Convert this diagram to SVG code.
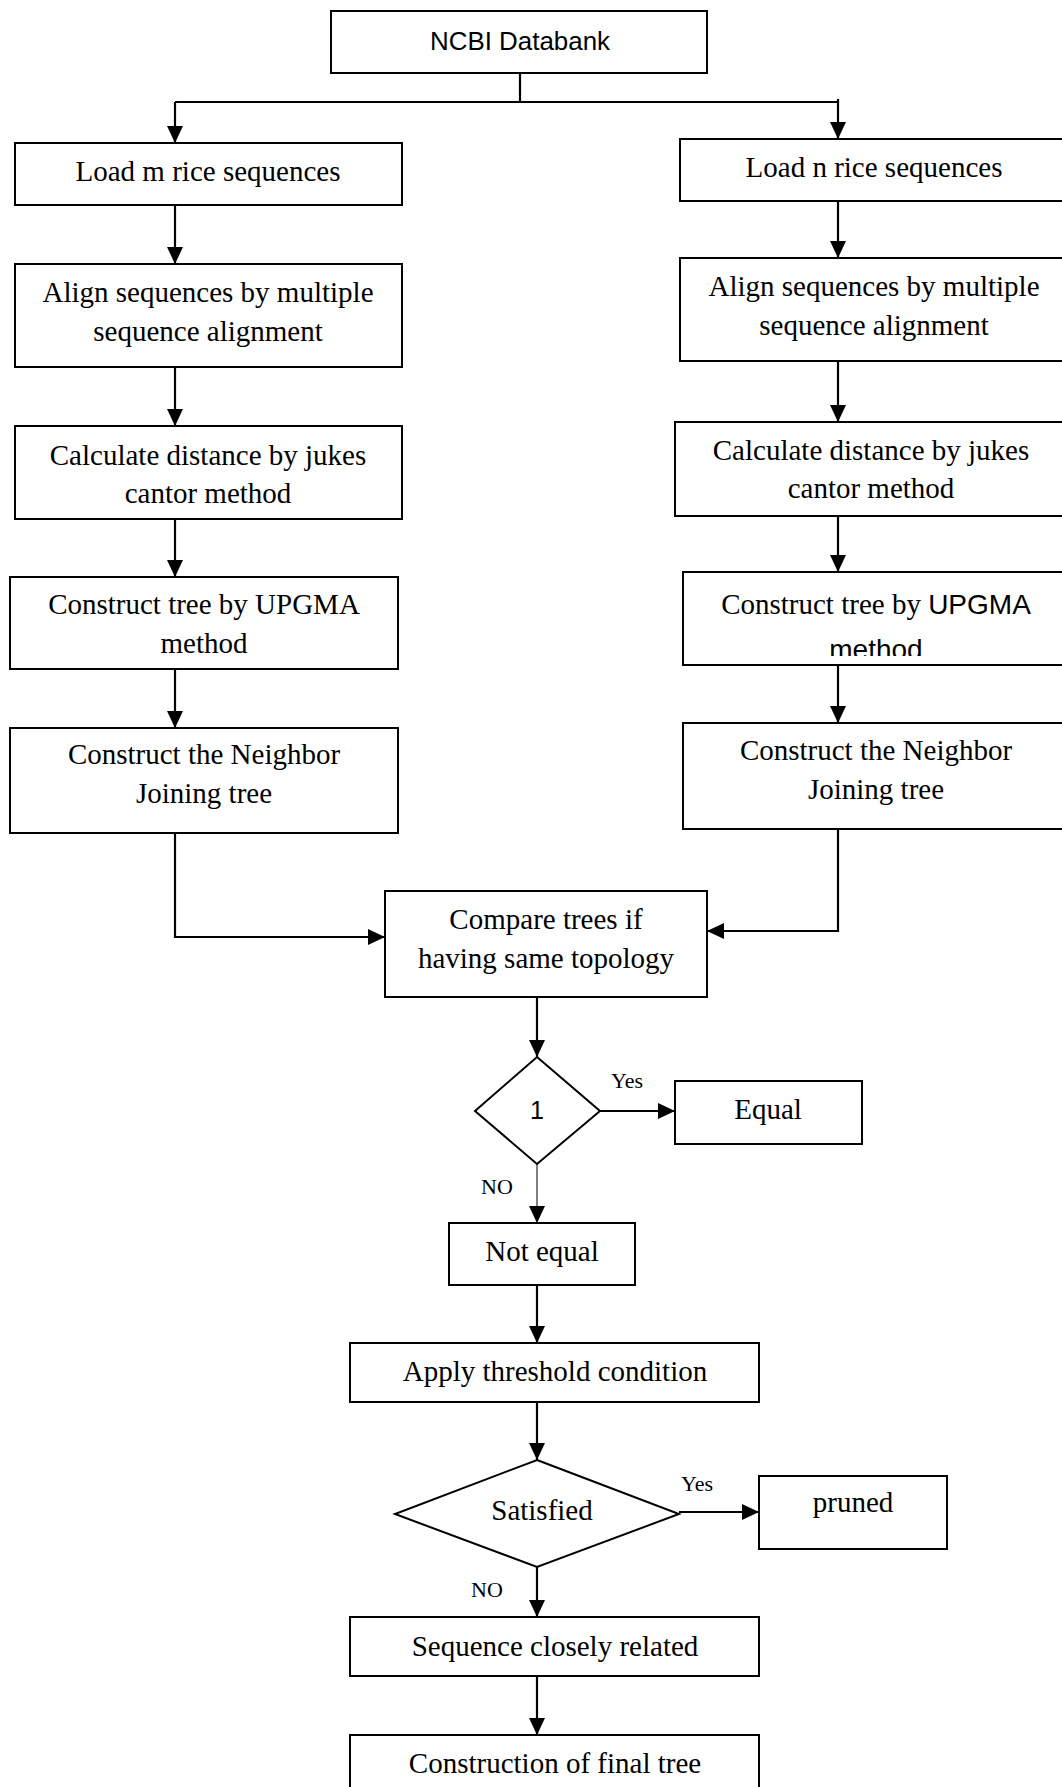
<svg xmlns="http://www.w3.org/2000/svg" width="1062" height="1787" viewBox="0 0 1062 1787">
<style>
.box{fill:#fff;stroke:#000;stroke-width:2}
.t{font-family:"Liberation Serif","Times New Roman",serif;font-size:29px;fill:#000;text-anchor:middle}
.s{font-family:"Liberation Sans",Arial,sans-serif;fill:#000;text-anchor:middle}
.lbl{font-family:"Liberation Serif","Times New Roman",serif;font-size:22px;fill:#000;text-anchor:middle}
.c{fill:none;stroke:#000;stroke-width:2.2}
.thin{fill:none;stroke:#000;stroke-width:1}
</style>
<defs>
<marker id="ah" markerUnits="userSpaceOnUse" markerWidth="18" markerHeight="16" refX="17" refY="8" orient="auto">
<path d="M0,0 L17,8 L0,16 Z" fill="#000"/>
</marker>
<clipPath id="clipUp"><rect x="683" y="572" width="400" height="84"/></clipPath>
</defs>
<rect width="1062" height="1787" fill="#fff"/>

<g id="connectors">
<path class="c" d="M520,73 V102"/>
<path class="c" d="M175,102 H838 V99"/>
<path class="c" d="M175,102 V143" marker-end="url(#ah)"/>
<path class="c" d="M838,102 V139" marker-end="url(#ah)"/>
<path class="c" d="M175,205 V264" marker-end="url(#ah)"/>
<path class="c" d="M175,367 V426" marker-end="url(#ah)"/>
<path class="c" d="M175,519 V577" marker-end="url(#ah)"/>
<path class="c" d="M175,669 V728" marker-end="url(#ah)"/>
<path class="c" d="M838,201 V258" marker-end="url(#ah)"/>
<path class="c" d="M838,361 V422" marker-end="url(#ah)"/>
<path class="c" d="M838,516 V572" marker-end="url(#ah)"/>
<path class="c" d="M838,665 V723" marker-end="url(#ah)"/>
<path class="c" d="M175,833 V937 H385" marker-end="url(#ah)"/>
<path class="c" d="M838,829 V931 H707" marker-end="url(#ah)"/>
<path class="c" d="M537,997 V1057" marker-end="url(#ah)"/>
<path class="c" d="M600,1111 H675" marker-end="url(#ah)"/>
<path class="thin" d="M537,1164 V1223" marker-end="url(#ah)"/>
<path class="c" d="M537,1285 V1343" marker-end="url(#ah)"/>
<path class="c" d="M537,1402 V1460" marker-end="url(#ah)"/>
<path class="c" d="M679,1512 H759" marker-end="url(#ah)"/>
<path class="c" d="M537,1567 V1617" marker-end="url(#ah)"/>
<path class="c" d="M537,1676 V1735" marker-end="url(#ah)"/>
</g>

<g id="ncbi">
<rect class="box" x="331" y="11" width="376" height="62"/>
<text class="s" x="520" y="50" font-size="25" textLength="180" lengthAdjust="spacingAndGlyphs">NCBI Databank</text>
</g>

<g id="load-m">
<rect class="box" x="15" y="143" width="387" height="62"/>
<text class="t" x="208" y="181">Load m rice sequences</text>
</g>
<g id="load-n">
<rect class="box" x="680" y="139" width="400" height="62"/>
<text class="t" x="874" y="177">Load n rice sequences</text>
</g>

<g id="align-m">
<rect class="box" x="15" y="264" width="387" height="103"/>
<text class="t" x="208" y="302">Align sequences by multiple</text>
<text class="t" x="208" y="341">sequence alignment</text>
</g>
<g id="align-n">
<rect class="box" x="680" y="258" width="400" height="103"/>
<text class="t" x="874" y="296">Align sequences by multiple</text>
<text class="t" x="874" y="335">sequence alignment</text>
</g>

<g id="calc-m">
<rect class="box" x="15" y="426" width="387" height="93"/>
<text class="t" x="208" y="465">Calculate distance by jukes</text>
<text class="t" x="208" y="503">cantor method</text>
</g>
<g id="calc-n">
<rect class="box" x="675" y="422" width="405" height="94"/>
<text class="t" x="871" y="460">Calculate distance by jukes</text>
<text class="t" x="871" y="498">cantor method</text>
</g>

<g id="upgma-m">
<rect class="box" x="10" y="577" width="388" height="92"/>
<text class="t" x="204" y="614">Construct tree by UPGMA</text>
<text class="t" x="204" y="653">method</text>
</g>
<g id="upgma-n">
<rect class="box" x="683" y="572" width="400" height="93"/>
<text class="t" x="876" y="614">Construct tree by <tspan font-family="Liberation Sans, Arial, sans-serif" font-size="28">UPGMA</tspan></text>
<text class="s" x="876" y="659" font-size="28" clip-path="url(#clipUp)">method</text>
</g>

<g id="nj-m">
<rect class="box" x="10" y="728" width="388" height="105"/>
<text class="t" x="204" y="764">Construct the Neighbor</text>
<text class="t" x="204" y="803">Joining tree</text>
</g>
<g id="nj-n">
<rect class="box" x="683" y="723" width="400" height="106"/>
<text class="t" x="876" y="760">Construct the Neighbor</text>
<text class="t" x="876" y="799">Joining tree</text>
</g>

<g id="compare">
<rect class="box" x="385" y="891" width="322" height="106"/>
<text class="t" x="546" y="929">Compare trees if</text>
<text class="t" x="546" y="968">having same topology</text>
</g>

<g id="decision1">
<polygon class="box" points="537,1057 600,1111 537,1164 475,1111"/>
<text class="s" x="537" y="1119" font-size="25">1</text>
</g>
<text class="lbl" x="627" y="1088">Yes</text>
<text class="lbl" x="497" y="1194">NO</text>

<g id="equal">
<rect class="box" x="675" y="1081" width="187" height="63"/>
<text class="t" x="768" y="1119">Equal</text>
</g>

<g id="not-equal">
<rect class="box" x="449" y="1223" width="186" height="62"/>
<text class="t" x="542" y="1261">Not equal</text>
</g>

<g id="threshold">
<rect class="box" x="350" y="1343" width="409" height="59"/>
<text class="t" x="555" y="1381">Apply threshold condition</text>
</g>

<g id="satisfied">
<polygon class="box" points="537,1460 679,1514 537,1567 395,1514"/>
<text class="t" x="542" y="1520">Satisfied</text>
</g>
<text class="lbl" x="697" y="1491">Yes</text>
<text class="lbl" x="487" y="1597">NO</text>

<g id="pruned">
<rect class="box" x="759" y="1476" width="188" height="73"/>
<text class="t" x="853" y="1512">pruned</text>
</g>

<g id="closely-related">
<rect class="box" x="350" y="1617" width="409" height="59"/>
<text class="t" x="555" y="1656">Sequence closely related</text>
</g>

<g id="final-tree">
<rect class="box" x="350" y="1735" width="409" height="70"/>
<text class="t" x="555" y="1773">Construction of final tree</text>
</g>
</svg>
